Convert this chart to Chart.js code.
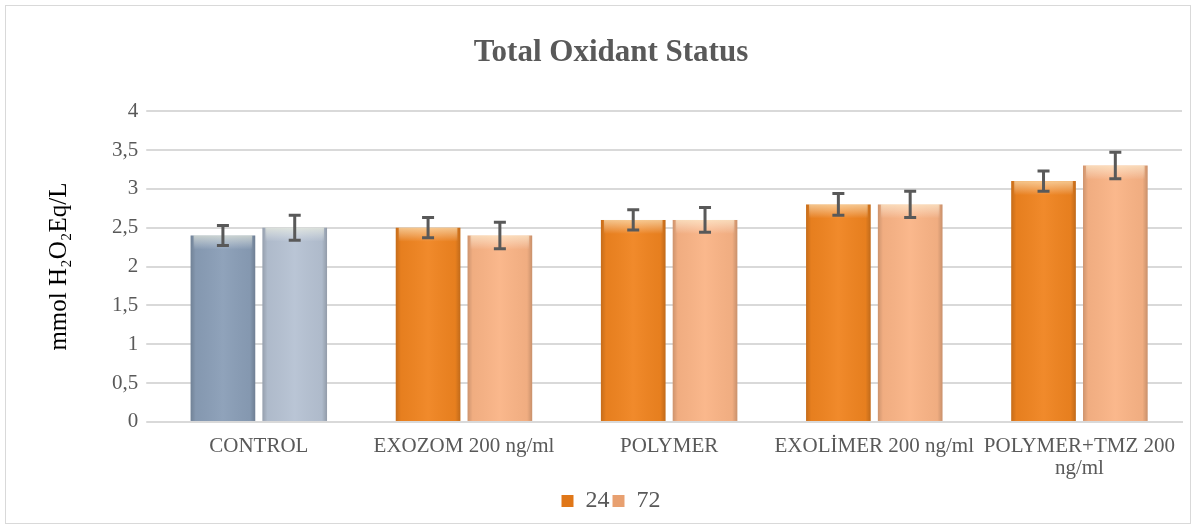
<!DOCTYPE html>
<html>
<head>
<meta charset="utf-8">
<script src="https://cdn.jsdelivr.net/npm/chart.js@4"></script>
<style>
  body { margin: 0; background: #fff; }
  #box { position: absolute; left: 5px; top: 5px; width: 1184px; height: 517px; border: 1px solid #d9d9d9; }
</style>
</head>
<body>
<div id="box"><canvas id="tos-chart"></canvas></div>
<script>
const groups = ['CONTROL', 'EXOZOM 200 ng/ml', 'POLYMER', 'EXOLİMER 200 ng/ml', ['POLYMER+TMZ 200', 'ng/ml']];
const values24 = [2.4, 2.5, 2.6, 2.8, 3.1];
const values72 = [2.5, 2.4, 2.6, 2.8, 3.3];
const err24 = [0.13, 0.13, 0.13, 0.14, 0.13];
const err72 = [0.16, 0.17, 0.16, 0.17, 0.17];
const yTicks = [0, 0.5, 1, 1.5, 2, 2.5, 3, 3.5, 4];

const colors24 = ['#8a9eb7', '#f08420', '#f08420', '#f08420', '#f08420'];
const colors72 = ['#b6c2d3', '#fab486', '#fab486', '#fab486', '#fab486'];
const serif = 'Liberation Serif, "Times New Roman", serif';

// bevel shading on the bars + error bars
const barExtras = {
    id: 'barExtras',
    afterDatasetsDraw(chart) {
        const ctx = chart.ctx;
        const y = chart.scales.y;
        const errs = [err24, err72];
        ctx.save();
        chart.data.datasets.forEach((ds, i) => {
            chart.getDatasetMeta(i).data.forEach(bar => {
                const l = bar.x - bar.width / 2, w = bar.width;
                const h = bar.base - bar.y;
                let g = ctx.createLinearGradient(l, 0, l + w, 0);
                g.addColorStop(0, 'rgba(0,0,0,0.18)');
                g.addColorStop(0.08, 'rgba(0,0,0,0.04)');
                g.addColorStop(0.5, 'rgba(255,255,255,0.05)');
                g.addColorStop(0.92, 'rgba(0,0,0,0.04)');
                g.addColorStop(1, 'rgba(0,0,0,0.2)');
                ctx.fillStyle = g;
                ctx.fillRect(l, bar.y, w, h);
                g = ctx.createLinearGradient(0, bar.y, 0, bar.y + 14);
                g.addColorStop(0, 'rgba(255,255,230,0.55)');
                g.addColorStop(1, 'rgba(255,255,255,0)');
                ctx.fillStyle = g;
                ctx.fillRect(l + 3, bar.y, w - 6, 14);
            });
        });
        ctx.strokeStyle = '#595959';
        ctx.lineWidth = 3;
        chart.data.datasets.forEach((ds, i) => {
            chart.getDatasetMeta(i).data.forEach((bar, j) => {
                const top = y.getPixelForValue(ds.data[j] + errs[i][j]);
                const bot = y.getPixelForValue(ds.data[j] - errs[i][j]);
                ctx.beginPath();
                ctx.moveTo(bar.x, top); ctx.lineTo(bar.x, bot);
                ctx.moveTo(bar.x - 6, top); ctx.lineTo(bar.x + 6, top);
                ctx.moveTo(bar.x - 6, bot); ctx.lineTo(bar.x + 6, bot);
                ctx.stroke();
            });
        });
        ctx.restore();
    }
};

new Chart(document.getElementById('tos-chart'), {
    type: 'bar',
    data: {
        labels: groups,
        datasets: [{
            label: '24',
            data: values24,
            backgroundColor: colors24,
            categoryPercentage: 0.7,
            barPercentage: 0.9
        }, {
            label: '72',
            data: values72,
            backgroundColor: colors72,
            categoryPercentage: 0.7,
            barPercentage: 0.9
        }]
    },
    options: {
        responsive: true,
        maintainAspectRatio: false,
        animation: false,
        layout: { padding: { left: 34, right: 8, top: 10, bottom: 0 } },
        plugins: {
            title: {
                display: true,
                text: 'Total Oxidant Status',
                color: '#595959',
                font: { family: serif, size: 31, weight: 'bold' },
                padding: { top: 18, bottom: 40 }
            },
            legend: {
                position: 'bottom',
                labels: {
                    color: '#595959',
                    font: { family: serif, size: 24 },
                    boxWidth: 12,
                    boxHeight: 12,
                    padding: 3,
                    generateLabels: () => [
                        { text: '24', fillStyle: '#e07718', strokeStyle: '#e07718', lineWidth: 0, fontColor: '#595959' },
                        { text: '72', fillStyle: '#e8a070', strokeStyle: '#e8a070', lineWidth: 0, fontColor: '#595959' }
                    ]
                }
            },
            tooltip: { enabled: false }
        },
        scales: {
            x: {
                grid: { display: false },
                border: { color: '#d9d9d9', width: 2 },
                ticks: {
                    color: '#595959',
                    maxRotation: 0,
                    padding: 6,
                    font: { family: serif, size: 21, lineHeight: 1.05 }
                }
            },
            y: {
                min: 0,
                max: 4,
                afterBuildTicks: axis => { axis.ticks = yTicks.map(v => ({ value: v })); },
                grid: { color: '#d9d9d9', lineWidth: 2, drawTicks: true, tickLength: 10 },
                border: { display: false },
                ticks: {
                    color: '#595959',
                    padding: 8,
                    font: { family: serif, size: 21 },
                    callback: v => String(v).replace('.', ',')
                },
                title: {
                    display: true,
                    text: 'mmol H₂O₂Eq/L',
                    color: '#000',
                    font: { family: serif, size: 25 },
                    padding: { bottom: 30 }
                }
            }
        }
    },
    plugins: [barExtras]
});
</script>
</body>
</html>
